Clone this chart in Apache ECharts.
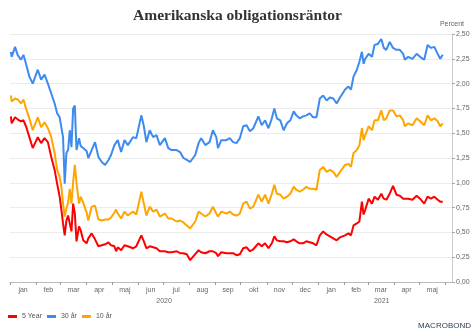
<!DOCTYPE html>
<html><head><meta charset="utf-8">
<script src="https://cdn.jsdelivr.net/npm/echarts@6/dist/echarts.min.js"></script>
<style>html,body{margin:0;padding:0;background:#fff}#c{width:475px;height:335px}</style>
</head><body><div id="c"></div>
<script>
const dates = ['2020-01-02','2020-01-03','2020-01-07','2020-01-10','2020-01-14','2020-01-17','2020-01-20','2020-01-24','2020-01-28','2020-02-03',
'2020-02-07','2020-02-11','2020-02-15','2020-02-19','2020-02-23','2020-02-26','2020-02-29','2020-03-02','2020-03-04','2020-03-06',
'2020-03-08','2020-03-10','2020-03-12','2020-03-14','2020-03-16','2020-03-18','2020-03-20','2020-03-23','2020-03-25','2020-03-28',
'2020-04-01','2020-04-03','2020-04-07','2020-04-11','2020-04-15','2020-04-19','2020-04-23','2020-04-27','2020-04-30','2020-05-04',
'2020-05-06','2020-05-08','2020-05-12','2020-05-16','2020-05-20','2020-05-26','2020-05-30','2020-06-05','2020-06-08','2020-06-11',
'2020-06-15','2020-06-19','2020-06-23','2020-06-27','2020-07-03','2020-07-07','2020-07-11','2020-07-17','2020-07-21','2020-07-25',
'2020-07-29','2020-08-02','2020-08-04','2020-08-08','2020-08-12','2020-08-15','2020-08-20','2020-08-25','2020-08-29','2020-09-02',
'2020-09-04','2020-09-08','2020-09-14','2020-09-18','2020-09-22','2020-09-26','2020-09-30','2020-10-04','2020-10-08','2020-10-12',
'2020-10-16','2020-10-22','2020-10-26','2020-10-30','2020-11-03','2020-11-07','2020-11-10','2020-11-13','2020-11-17','2020-11-21',
'2020-11-25','2020-11-29','2020-12-03','2020-12-06','2020-12-10','2020-12-14','2020-12-18','2020-12-22','2020-12-26','2020-12-30',
'2021-01-03','2021-01-07','2021-01-11','2021-01-15','2021-01-19','2021-01-23','2021-01-27','2021-02-02','2021-02-06','2021-02-09',
'2021-02-12','2021-02-16','2021-02-19','2021-02-22','2021-02-24','2021-02-26','2021-03-02','2021-03-06','2021-03-09','2021-03-13',
'2021-03-17','2021-03-20','2021-03-23','2021-03-27','2021-03-31','2021-04-04','2021-04-08','2021-04-12','2021-04-14','2021-04-18',
'2021-04-23','2021-04-28','2021-05-02','2021-05-07','2021-05-11','2021-05-15','2021-05-19','2021-05-23','2021-05-26','2021-05-29'];

const y30 = [2.32,2.27,2.37,2.29,2.24,2.29,2.20,2.07,2.00,2.14,
2.04,2.09,2.00,1.90,1.80,1.70,1.66,1.65,1.46,0.99,
1.30,1.33,1.53,1.36,1.75,1.78,1.33,1.45,1.37,1.35,
1.32,1.25,1.33,1.41,1.26,1.21,1.18,1.23,1.28,1.38,
1.40,1.43,1.31,1.43,1.38,1.46,1.45,1.68,1.57,1.41,
1.53,1.46,1.48,1.38,1.45,1.35,1.33,1.33,1.31,1.25,
1.23,1.21,1.20,1.28,1.40,1.45,1.38,1.41,1.53,1.46,
1.35,1.43,1.43,1.45,1.41,1.40,1.45,1.57,1.58,1.52,
1.55,1.67,1.58,1.63,1.55,1.65,1.75,1.65,1.63,1.53,
1.60,1.63,1.72,1.68,1.65,1.67,1.68,1.70,1.66,1.66,
1.85,1.88,1.83,1.86,1.85,1.80,1.86,1.94,1.97,1.94,
2.07,2.14,2.22,2.32,2.20,2.25,2.30,2.27,2.39,2.40,
2.45,2.36,2.34,2.42,2.36,2.34,2.34,2.30,2.24,2.27,
2.25,2.30,2.27,2.24,2.39,2.36,2.37,2.30,2.25,2.29];

const y10 = [1.88,1.82,1.85,1.84,1.80,1.84,1.75,1.65,1.53,1.66,
1.56,1.61,1.55,1.46,1.30,1.13,1.06,0.96,0.79,0.66,
0.74,0.80,0.94,0.79,1.01,1.18,1.00,0.79,0.86,0.80,
0.70,0.62,0.76,0.77,0.63,0.62,0.63,0.63,0.65,0.70,
0.73,0.69,0.64,0.71,0.67,0.71,0.68,0.91,0.79,0.67,
0.76,0.71,0.73,0.66,0.69,0.64,0.64,0.61,0.62,0.60,
0.57,0.54,0.56,0.61,0.71,0.69,0.66,0.69,0.76,0.69,
0.66,0.71,0.69,0.71,0.68,0.67,0.69,0.79,0.81,0.74,
0.76,0.88,0.81,0.88,0.79,0.89,0.98,0.89,0.88,0.84,
0.86,0.89,0.96,0.93,0.91,0.93,0.96,0.94,0.94,0.93,
1.13,1.16,1.11,1.13,1.11,1.06,1.11,1.18,1.19,1.16,
1.30,1.33,1.38,1.55,1.43,1.48,1.57,1.53,1.63,1.63,
1.73,1.63,1.65,1.73,1.73,1.67,1.68,1.63,1.57,1.60,
1.58,1.65,1.62,1.58,1.68,1.63,1.65,1.62,1.57,1.60];

const y5 = [1.67,1.60,1.66,1.64,1.62,1.63,1.57,1.46,1.35,1.46,
1.40,1.45,1.41,1.26,1.13,0.99,0.86,0.73,0.59,0.47,
0.62,0.67,0.66,0.51,0.79,0.69,0.41,0.56,0.52,0.42,
0.39,0.44,0.49,0.43,0.36,0.37,0.38,0.40,0.37,0.36,
0.31,0.35,0.32,0.37,0.36,0.34,0.36,0.47,0.41,0.34,
0.36,0.35,0.34,0.31,0.31,0.30,0.30,0.31,0.29,0.29,
0.28,0.22,0.24,0.28,0.32,0.30,0.29,0.31,0.31,0.29,
0.26,0.30,0.29,0.29,0.29,0.27,0.28,0.34,0.35,0.31,
0.33,0.39,0.36,0.39,0.34,0.39,0.46,0.42,0.41,0.41,
0.40,0.41,0.43,0.41,0.39,0.39,0.41,0.40,0.39,0.37,
0.47,0.51,0.48,0.46,0.44,0.42,0.45,0.47,0.49,0.47,
0.57,0.59,0.61,0.81,0.68,0.73,0.84,0.79,0.86,0.83,
0.89,0.84,0.83,0.89,0.97,0.88,0.87,0.84,0.82,0.84,
0.83,0.87,0.84,0.79,0.86,0.84,0.86,0.83,0.81,0.81];

const monthStarts = ['2020-01-01','2020-02-01','2020-03-01','2020-04-01','2020-05-01','2020-06-01','2020-07-01','2020-08-01','2020-09-01','2020-10-01','2020-11-01','2020-12-01','2021-01-01','2021-02-01','2021-03-01','2021-04-01','2021-05-01','2021-06-01'];
const monthLabels = ['jan','feb','mar','apr','maj','jun','jul','aug','sep','okt','nov','dec','jan','feb','mar','apr','maj'];
const yearLabels = ['2020','2021'];
const yearSpans = [['2020-01-01','2021-01-01'],['2021-01-01','2021-06-01']];
const xMin = '2020-01-01', xMax = '2021-06-09';

const ms = s => new Date(s + 'T00:00:00Z').getTime();
const tickVals = monthStarts.map(ms);
const monthMids = monthLabels.map((_, i) => (tickVals[i] + tickVals[i + 1]) / 2);
const yearMids = yearSpans.map(p => (ms(p[0]) + ms(p[1])) / 2);
const nearest = (arr, v) => { let b = 0; arr.forEach((a, i) => { if (Math.abs(a - v) < Math.abs(arr[b] - v)) b = i; }); return b; };

const zip = ys => dates.map((d, i) => [ms(d), ys[i]]);
const font = 'Liberation Sans';

const chart = echarts.init(document.getElementById('c'), null, {renderer: 'canvas'});
chart.setOption({
  animation: false,
  backgroundColor: '#fff',
  title: {text: 'Amerikanska obligationsräntor', left: 'center', top: 3,
    textStyle: {fontFamily: 'Liberation Serif', fontWeight: 'bold', fontSize: 15.5, color: '#333'}},
  grid: {left: 10, right: 23, top: 34, bottom: 53},
  legend: {left: 3, top: 308, icon: 'rect', itemWidth: 9, itemHeight: 3, itemGap: 5,
    textStyle: {fontFamily: font, fontSize: 7, color: '#555'},
    data: ['5 Year', '30 år', '10 år']},
  xAxis: [
    {type: 'value', min: ms(xMin), max: ms(xMax), scale: true,
      axisLine: {show: true, onZero: false, lineStyle: {color: '#bbb', width: 1}},
      axisTick: {show: true, length: 3, lineStyle: {color: '#999'}, customValues: tickVals},
      axisLabel: {show: true, customValues: monthMids, fontFamily: font, fontSize: 7, color: '#666', margin: 5,
        formatter: v => monthLabels[nearest(monthMids, v)]},
      splitLine: {show: false}},
    {type: 'value', min: ms(xMin), max: ms(xMax), scale: true, position: 'bottom',
      axisLine: {show: false}, axisTick: {show: false}, splitLine: {show: false},
      axisLabel: {show: true, customValues: yearMids, fontFamily: font, fontSize: 7, color: '#666', margin: 16,
        formatter: v => yearLabels[nearest(yearMids, v)]}}
  ],
  yAxis: {type: 'value', position: 'right', min: 0, max: 2.5, interval: 0.25,
    name: 'Percent', nameLocation: 'end', nameGap: 6,
    nameTextStyle: {fontFamily: font, fontSize: 7, color: '#666', align: 'center'},
    axisLine: {show: true, lineStyle: {color: '#ccc'}},
    axisTick: {show: true, length: 3, lineStyle: {color: '#aaa'}},
    axisLabel: {fontFamily: font, fontSize: 7, color: '#666', margin: 4,
      formatter: v => v.toFixed(2).replace('.', ',')},
    splitLine: {show: true, lineStyle: {color: '#ebebeb', width: 1}}},
  series: [
    {name: '5 Year', type: 'line', data: zip(y5), showSymbol: false, color: '#ff0000', lineStyle: {width: 2}, z: 3},
    {name: '30 år', type: 'line', data: zip(y30), showSymbol: false, color: '#3d8af0', lineStyle: {width: 2}, z: 2},
    {name: '10 år', type: 'line', data: zip(y10), showSymbol: false, color: '#ffa500', lineStyle: {width: 2}, z: 2}
  ],
  graphic: [{type: 'text', right: 4, bottom: 5,
    style: {text: 'MACROBOND', font: '8px "Liberation Sans"', fill: '#2e4157'}}]
});
</script></body></html>
